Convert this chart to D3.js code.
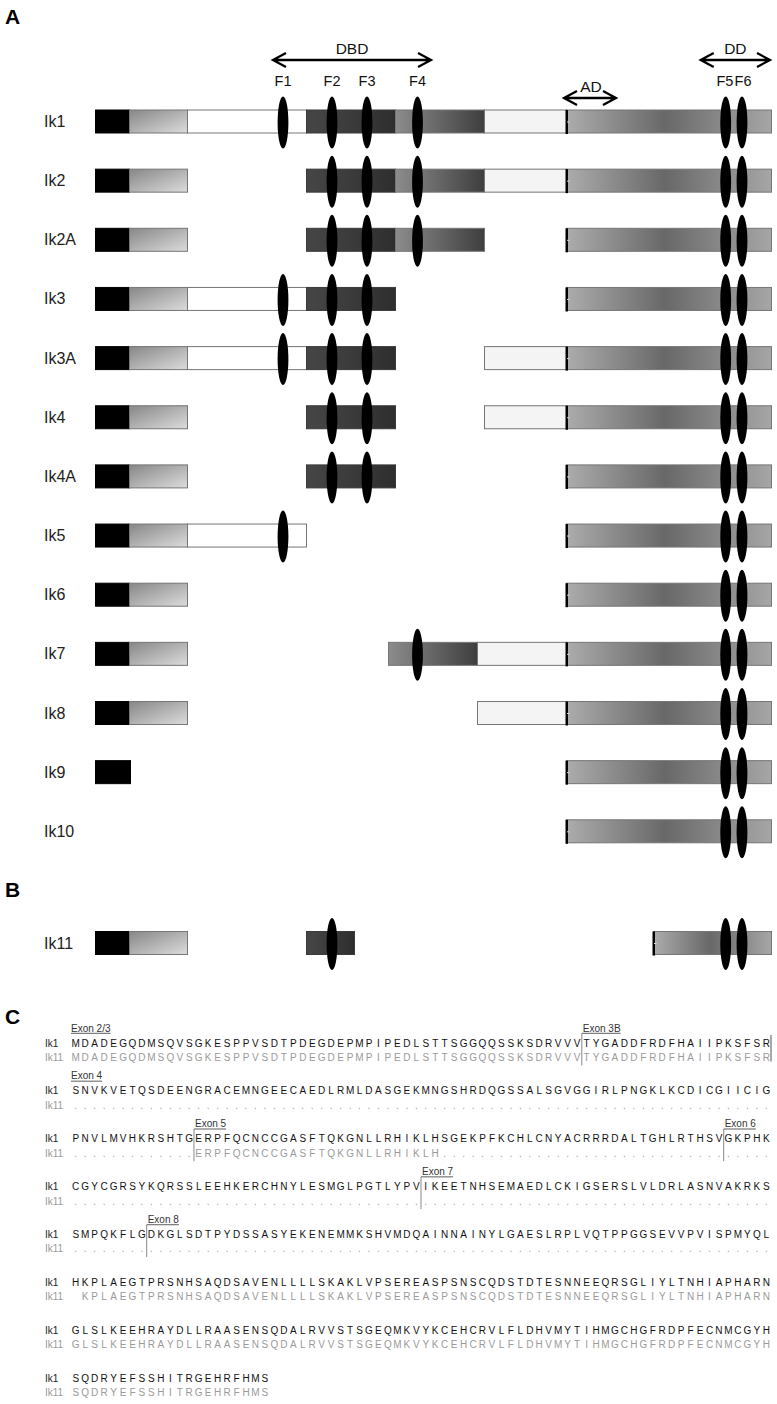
<!DOCTYPE html>
<html><head><meta charset="utf-8">
<script src="https://cdn.jsdelivr.net/npm/d3@7"></script>
<style>body{margin:0;background:#fff} svg{display:block;font-family:"Liberation Sans",Arial,sans-serif}</style>
</head><body><svg id="c" width="777" height="1404"></svg>
<script>
// ---------- DATA ----------
const isoformsA = ["Ik1","Ik2","Ik2A","Ik3","Ik3A","Ik4","Ik4A","Ik5","Ik6","Ik7","Ik8","Ik9","Ik10"];
// segment extents in schematic units
const segExtent = {
  black:[0,34], grad:[34,92], white:[92,211], dark:[211,300], med:[300,389], light:[389,471],
  med7:[293,382], light7:[382,471], black9:[0,35], darkB:[211,259], long:[471,676], longB:[558,676]
};
const isoformSegments = [
  ["black","grad","white","dark","med","light","long"],
  ["black","grad","dark","med","light","long"],
  ["black","grad","dark","med","long"],
  ["black","grad","white","dark","long"],
  ["black","grad","white","dark","light","long"],
  ["black","grad","dark","light","long"],
  ["black","grad","dark","long"],
  ["black","grad","white","long"],
  ["black","grad","long"],
  ["black","grad","med7","light7","long"],
  ["black","grad","light7","long"],
  ["black9","long"],
  ["long"]
];
const fingerPos = {F1:188, F2:237, F3:272, F4:322.5, F5:630.7, F6:647};
const isoformFingers = [
  ["F1","F2","F3","F4","F5","F6"],
  ["F2","F3","F4","F5","F6"],
  ["F2","F3","F4","F5","F6"],
  ["F1","F2","F3","F5","F6"],
  ["F1","F2","F3","F5","F6"],
  ["F2","F3","F5","F6"],
  ["F2","F3","F5","F6"],
  ["F1","F5","F6"],
  ["F5","F6"],
  ["F4","F5","F6"],
  ["F5","F6"],
  ["F5","F6"],
  ["F5","F6"]
];
const domainArrows = [
  {label:"DBD", from:178, to:336},
  {label:"AD", from:469, to:521},
  {label:"DD", from:605.7, to:675}
];
const isoformB = "Ik11";
const segmentsB = ["black","grad","darkB","longB"];
const fingersB = ["F2","F5","F6"];

const seqIk1 = [
  "MDADEGQDMSQVSGKESPPVSDTPDEGDEPMPIPEDLSTTSGGQQSSKSDRVVVTYGADDFRDFHAIIPKSFSR",
  "SNVKVETQSDEENGRACEMNGEECAEDLRMLDASGEKMNGSHRDQGSSALSGVGGIRLPNGKLKCDICGIICIG",
  "PNVLMVHKRSHTGERPFQCNCCGASFTQKGNLLRHIKLHSGEKPFKCHLCNYACRRRDALTGHLRTHSVGKPHK",
  "CGYCGRSYKQRSSLEEHKERCHNYLESMGLPGTLYPVIKEETNHSEMAEDLCKIGSERSLVLDRLASNVAKRKS",
  "SMPQKFLGDKGLSDTPYDSSASYEKENEMMKSHVMDQAINNAINYLGAESLRPLVQTPPGGSEVVPVISPMYQL",
  "HKPLAEGTPRSNHSAQDSAVENLLLLSKAKLVPSEREASPSNSCQDSTDTESNNEEQRSGLIYLTNHIAPHARN",
  "GLSLKEEHRAYDLLRAASENSQDALRVVSTSGEQMKVYKCEHCRVLFLDHVMYTIHMGCHGFRDPFECNMCGYH",
  "SQDRYEFSSHITRGEHRFHMS"
];
const seqIk11 = [
  "MDADEGQDMSQVSGKESPPVSDTPDEGDEPMPIPEDLSTTSGGQQSSKSDRVVVTYGADDFRDFHAIIPKSFSR",
  ".".repeat(74),
  ".".repeat(13) + "ERPFQCNCCGASFTQKGNLLRHIKLH" + ".".repeat(35),
  ".".repeat(74),
  ".".repeat(74),
  " KPLAEGTPRSNHSAQDSAVENLLLLSKAKLVPSEREASPSNSCQDSTDTESNNEEQRSGLIYLTNHIAPHARN",
  "GLSLKEEHRAYDLLRAASENSQDALRVVSTSGEQMKVYKCEHCRVLFLDHVMYTIHMGCHGFRDPFECNMCGYH",
  "SQDRYEFSSHITRGEHRFHMS"
];
const exonMarks = [
  {label:"Exon 2/3", row:0, pos:0, line:false},
  {label:"Exon 3B", row:0, pos:54, line:true},
  {label:"Exon 4", row:1, pos:0, line:false},
  {label:"Exon 5", row:2, pos:13, line:true},
  {label:"Exon 6", row:2, pos:69, line:true},
  {label:"Exon 7", row:3, pos:37, line:true},
  {label:"Exon 8", row:4, pos:8, line:true}
];
const rowEndMarks = [{row:0, pos:74}];

// ---------- DRAW ----------
const svg = d3.select("#c");
const defs = svg.append("defs");
function lin(id, stops, x2=1, y2=0){
  const g = defs.append("linearGradient").attr("id", id).attr("x1",0).attr("y1",0).attr("x2",x2).attr("y2",y2);
  stops.forEach(s=>g.append("stop").attr("offset",s[0]).attr("stop-color",s[1]));
}
lin("gGrad", [[0,"#878787"],[1,"#dcdcdc"]], 1, 1);
lin("gDark", [[0,"#464646"],[0.5,"#3b3b3b"],[1,"#2e2e2e"]]);
lin("gMed", [[0,"#8c8c8c"],[1,"#3e3e3e"]]);
lin("gLong", [[0,"#acacac"],[0.48,"#686868"],[1,"#a6a6a6"]]);

const fillOf = {black:"#000", black9:"#000", grad:"url(#gGrad)", white:"#fff", dark:"url(#gDark)", darkB:"url(#gDark)",
  med:"url(#gMed)", med7:"url(#gMed)", light:"#f4f4f4", light7:"#f4f4f4", long:"url(#gLong)", longB:"url(#gLong)"};

const x = d3.scaleLinear().domain([0,676]).range([95,771]);
const yA = d3.scalePoint().domain(isoformsA).range([121.5, 831.3]);
const BAR_H = 23;

// panel letters
[["A",24],["B",897],["C",1024]].forEach(([t,yy])=>{
  svg.append("text").attr("x",5).attr("y",yy).attr("font-size",21).attr("font-weight","bold").attr("fill","#000").text(t);
});

function drawRow(name, cy, segs, fingers){
  const g = svg.append("g");
  g.append("text").attr("x",44).attr("y",cy+5.5).attr("font-size",16).attr("fill","#222").text(name);
  g.selectAll("rect.seg").data(segs).join("rect").attr("class","seg")
    .attr("x", d=>x(segExtent[d][0])+0.5)
    .attr("y", cy-BAR_H/2)
    .attr("width", d=>x(segExtent[d][1])-x(segExtent[d][0]))
    .attr("height", BAR_H)
    .attr("fill", d=>fillOf[d])
    .attr("stroke", d=>d.startsWith("black")?"#000":(d.startsWith("dark")?"#3a3a3a":"#767676"))
    .attr("stroke-width",1);
  segs.filter(d=>d.startsWith("long")).forEach(d=>{
    const x0 = x(segExtent[d][0]);
    g.append("rect").attr("x",x0-0.5).attr("y",cy-BAR_H/2).attr("width",2.5).attr("height",BAR_H+1).attr("fill","#000");
    g.append("line").attr("x1",x0+1).attr("x2",x0+3.5).attr("y1",cy+0.5).attr("y2",cy+0.5).attr("stroke","#ddd").attr("stroke-width",1);
  });
  g.selectAll("ellipse").data(fingers).join("ellipse")
    .attr("cx", d=>x(fingerPos[d])).attr("cy", cy+1).attr("rx",5.4).attr("ry",26).attr("fill","#000");
}
isoformsA.forEach((n,i)=>drawRow(n, yA(n), isoformSegments[i], isoformFingers[i]));
drawRow(isoformB, 943, segmentsB, fingersB);

// domain arrows
function arrow(x1, x2, y){
  const p = `M${x1},${y}L${x2},${y}M${x1+13},${y-7}L${x1},${y}L${x1+13},${y+7}M${x2-13},${y-7}L${x2},${y}L${x2-13},${y+7}`;
  svg.append("path").attr("d",p).attr("fill","none").attr("stroke","#000").attr("stroke-width",2.3);
}
const arrowY = {DBD:60, AD:98, DD:60};
domainArrows.forEach(a=>{
  const y = arrowY[a.label];
  arrow(x(a.from), x(a.to), y);
  svg.append("text").attr("x",(x(a.from)+x(a.to))/2+ (a.label==="AD"?1:0)).attr("y",y-6.5)
    .attr("text-anchor","middle").attr("font-size",15.5).attr("fill","#111").text(a.label);
});
// finger labels
const labelNudge = {F5:-0.8, F6:1};
Object.keys(fingerPos).forEach(f=>{
  svg.append("text").attr("x",x(fingerPos[f])+(labelNudge[f]||0)).attr("y",85.5).attr("text-anchor","middle")
    .attr("font-size",14.5).attr("fill","#111").text(f);
});

// ---------- PANEL C ----------
const xs = d3.scaleLinear().domain([0,74]).range([71,771]);
const yRow = d3.scaleLinear().domain([0,7]).range([1043,1378]);
const IK11_DY = 14.5;
const gC = svg.append("g").attr("font-size",10);

function seqLine(str, y, color){
  const off = str.length - str.trimStart().length;
  const t = str.trim();
  const pos = Array.from(t, (c,i)=>xs(off+i+0.5).toFixed(2)).join(" ");
  gC.append("text").attr("x",pos).attr("y",y+3.5).attr("text-anchor","middle").attr("fill",color).text(t);
}
seqIk1.forEach((s,r)=>{
  const y = yRow(r);
  gC.append("text").attr("x",45).attr("y",y+3.5).attr("fill","#222").text("Ik1");
  gC.append("text").attr("x",45).attr("y",y+IK11_DY+3.5).attr("fill","#9a9a9a").text("Ik11");
  seqLine(s, y, "#111");
  seqLine(seqIk11[r], y+IK11_DY, "#9a9a9a");
});
exonMarks.forEach(m=>{
  const y = yRow(m.row);
  const tx = xs(m.pos) + (m.line?1:0);
  const base = y - 11.5;
  const t = gC.append("text").attr("x",tx).attr("y",base).attr("fill","#333").text(m.label);
  const w = t.node().getComputedTextLength();
  gC.append("line").attr("x1",m.line?xs(m.pos):tx).attr("x2",tx+w).attr("y1",base+1.8).attr("y2",base+1.8)
    .attr("stroke","#333").attr("stroke-width",0.8);
  if(m.line){
    gC.append("line").attr("x1",xs(m.pos)).attr("x2",xs(m.pos)).attr("y1",base+1.8).attr("y2",y+IK11_DY+8)
      .attr("stroke","#888").attr("stroke-width",1);
  }
});
rowEndMarks.forEach(m=>{
  const y = yRow(m.row);
  gC.append("line").attr("x1",xs(m.pos)).attr("x2",xs(m.pos)).attr("y1",y-8).attr("y2",y+IK11_DY+4)
    .attr("stroke","#555").attr("stroke-width",1);
});
</script></body></html>
